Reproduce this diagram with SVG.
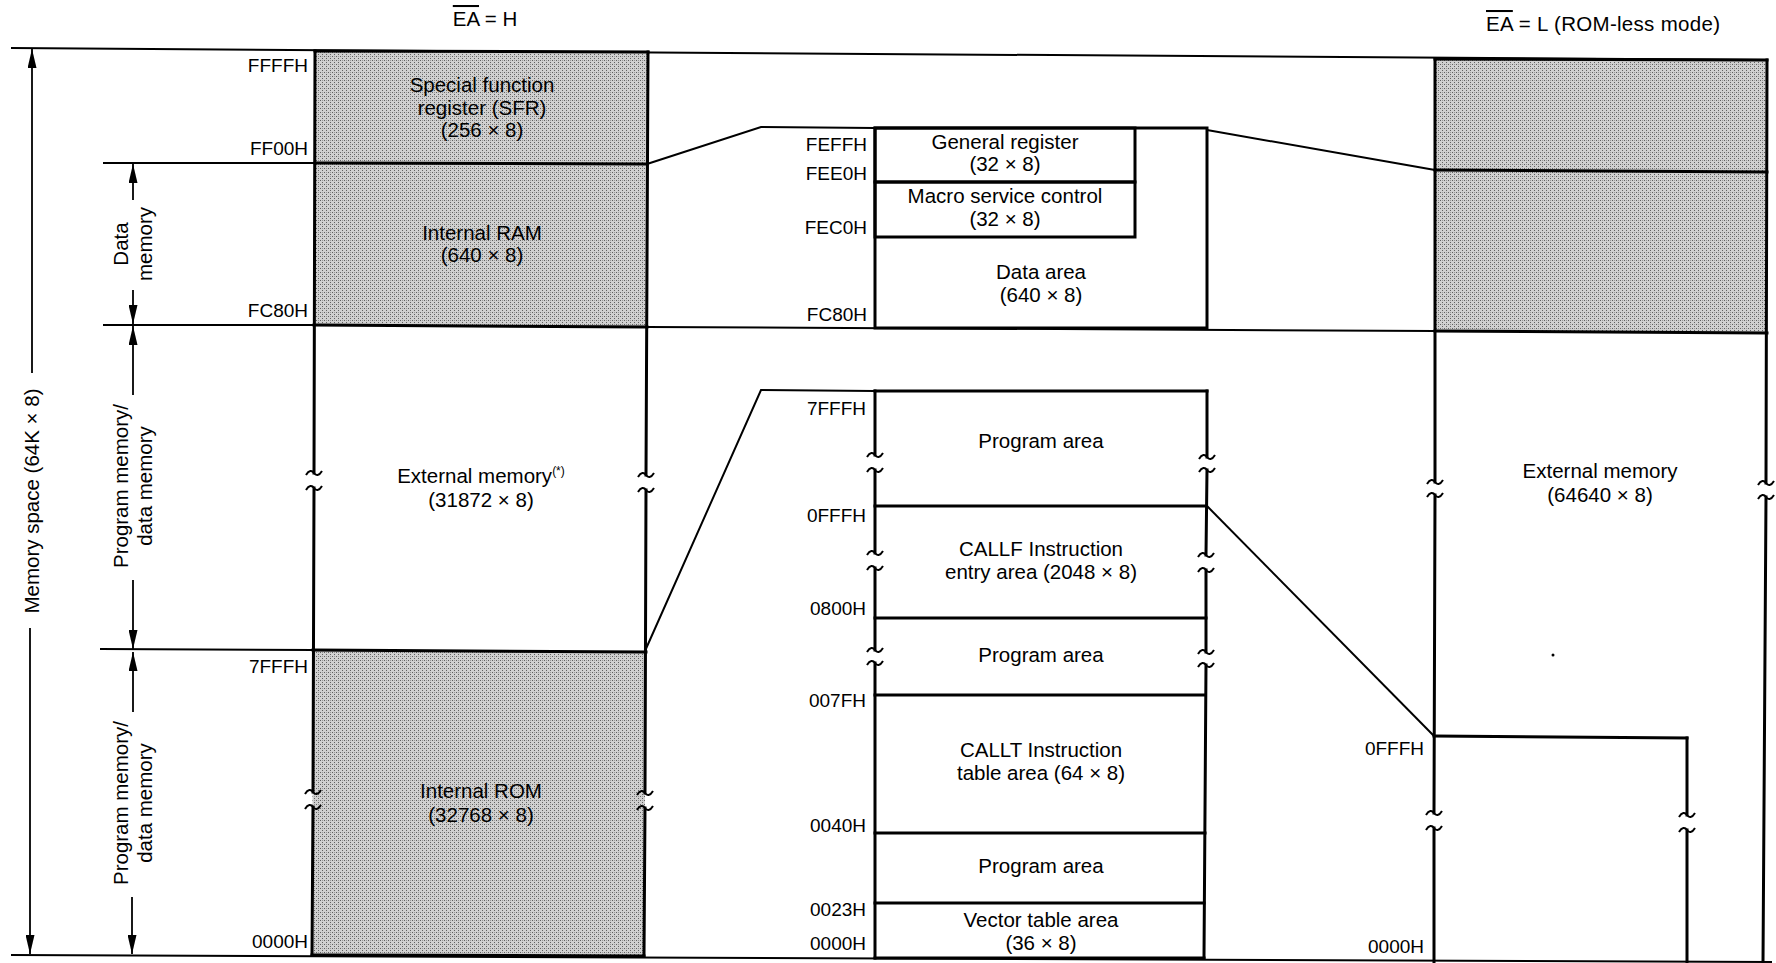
<svg xmlns="http://www.w3.org/2000/svg" xmlns:xlink="http://www.w3.org/1999/xlink" width="1776" height="963" viewBox="0 0 1776 963">
<style>
.t{font-family:"Liberation Sans",Arial,sans-serif;font-size:20.5px;fill:#000;text-anchor:middle}
.lbl{font-family:"Liberation Sans",Arial,sans-serif;font-size:19px;fill:#000;text-anchor:end}
.box{fill:none;stroke:#000;stroke-width:3;stroke-linecap:square}
.thin{fill:none;stroke:#000;stroke-width:2}
.arr{fill:none;stroke:#000;stroke-width:1.8;marker-end:url(#ah)}
.brk{fill:none;stroke:#000;stroke-width:2}
.shade{fill:url(#dots);stroke:none}
</style>
<defs>
<pattern id="dots" width="4" height="4" patternUnits="userSpaceOnUse">
<rect width="4" height="4" fill="#d0d0d0"/>
<rect x="0" y="0" width="1" height="1" fill="#606060"/>
<rect x="2" y="2" width="1" height="1" fill="#606060"/>
<rect x="2" y="0" width="1" height="1" fill="#989898"/>
</pattern>
<marker id="ah" viewBox="0 0 19 9" refX="19" refY="4.5" markerWidth="19" markerHeight="9" markerUnits="userSpaceOnUse" orient="auto">
<path d="M0,0 L19,4.5 L0,9 z" fill="#000"/>
</marker>
<path id="tl" d="M-8,2 C-5,-3 -2,-3 0,0 S5,3 8,-2"/>
</defs>
<rect width="1776" height="963" fill="#fff"/>

<g id="titles">
<text class="t" x="485" y="26"><tspan style="text-decoration:overline">EA</tspan> = H</text>
<text class="t" x="1486" y="31" style="text-anchor:start;letter-spacing:0.3px"><tspan style="text-decoration:overline">EA</tspan> = L (ROM-less mode)</text>
</g>

<g id="dimension-arrows">
<path class="arr" d="M32,373 L32,49"/>
<path class="arr" d="M30,628 L30,954"/>
<text class="t" transform="translate(39,501) rotate(-90)">Memory space (64K × 8)</text>
<path class="arr" d="M133,200 L133,164"/>
<path class="arr" d="M133,290 L133,324"/>
<text class="t" transform="translate(128,244) rotate(-90)"><tspan x="0" y="0">Data</tspan><tspan x="0" y="24">memory</tspan></text>
<path class="arr" d="M133,395 L133,326"/>
<path class="arr" d="M133,580 L133,649"/>
<text class="t" transform="translate(128,486) rotate(-90)"><tspan x="0" y="0">Program memory/</tspan><tspan x="0" y="24">data memory</tspan></text>
<path class="arr" d="M133,712 L133,652"/>
<path class="arr" d="M132,897 L132,954"/>
<text class="t" transform="translate(128,803) rotate(-90)"><tspan x="0" y="0">Program memory/</tspan><tspan x="0" y="24">data memory</tspan></text>
</g>

<g id="connectors">
<path class="thin" d="M11,48 L1767,60"/>
<path class="thin" d="M103,163 L315,163"/>
<path class="thin" d="M103,325 L314,325"/>
<path class="thin" d="M100,649 L313,650"/>
<path class="thin" d="M647,327 L1435,331"/>
<path class="thin" d="M11,955 L1772,962"/>
<path class="thin" d="M647,164 L761,127 L875,128"/>
<path class="thin" d="M1207,130 L1435,170"/>
<path class="thin" d="M645,651 L761,390 L875,391"/>
<path class="thin" d="M1207,506 L1434,736"/>
</g>

<g id="ea-h-sfr">
<polygon class="shade" points="315,51 648,52 647,164 315,163"/>
<text class="t" x="482" y="92">Special function</text>
<text class="t" x="482" y="115">register (SFR)</text>
<text class="t" x="482" y="137">(256 × 8)</text>
</g>
<g id="ea-h-ram">
<polygon class="shade" points="315,163 647,164 647,327 314,325"/>
<text class="t" x="482" y="240">Internal RAM</text>
<text class="t" x="482" y="262">(640 × 8)</text>
</g>
<g id="ea-h-external">
<text class="t" x="481" y="483">External memory<tspan style="font-size:12px" dy="-8">(*)</tspan></text>
<text class="t" x="481" y="507">(31872 × 8)</text>
</g>
<g id="ea-h-rom">
<polygon class="shade" points="313,650 646,652 644,956 312,955"/>
<text class="t" x="481" y="798">Internal ROM</text>
<text class="t" x="481" y="822">(32768 × 8)</text>
</g>
<g id="ea-h-frame">
<path class="box" d="M315,51 L648,52 M315,163 L647,164 M314,325 L647,327 M313,650 L646,652 M312,955 L644,956"/>
<path class="box" d="M315,51 L314,473 M314,488 L313,792 M313,807 L312,955"/>
<path class="box" d="M648,52 L646,475 M646,490 L645,793 M645,808 L644,956"/>
<use class="brk" xlink:href="#tl" x="314" y="473"/>
<use class="brk" xlink:href="#tl" x="314" y="488"/>
<use class="brk" xlink:href="#tl" x="313" y="792"/>
<use class="brk" xlink:href="#tl" x="313" y="807"/>
<use class="brk" xlink:href="#tl" x="646" y="475"/>
<use class="brk" xlink:href="#tl" x="646" y="490"/>
<use class="brk" xlink:href="#tl" x="645" y="793"/>
<use class="brk" xlink:href="#tl" x="645" y="808"/>
<text class="lbl" x="308" y="72">FFFFH</text>
<text class="lbl" x="308" y="155">FF00H</text>
<text class="lbl" x="308" y="317">FC80H</text>
<text class="lbl" x="308" y="673">7FFFH</text>
<text class="lbl" x="308" y="948">0000H</text>
</g>

<g id="data-area-detail">
<rect class="box" x="875" y="128" width="332" height="200"/>
<rect class="box" x="875" y="128" width="260" height="54"/>
<rect class="box" x="875" y="182" width="260" height="55"/>
<text class="t" x="1005" y="149">General register</text>
<text class="t" x="1005" y="171">(32 × 8)</text>
<text class="t" x="1005" y="203">Macro service control</text>
<text class="t" x="1005" y="226">(32 × 8)</text>
<text class="t" x="1041" y="279">Data area</text>
<text class="t" x="1041" y="302">(640 × 8)</text>
<text class="lbl" x="867" y="151">FEFFH</text>
<text class="lbl" x="867" y="180">FEE0H</text>
<text class="lbl" x="867" y="234">FEC0H</text>
<text class="lbl" x="867" y="321">FC80H</text>
</g>

<g id="program-area-detail">
<path class="box" d="M875,391 L1207,391 M875,506 L1206,506 M875,618 L1206,618 M875,695 L1205,695 M875,833 L1205,833 M875,903 L1204,903 M875,958 L1204,958"/>
<path class="box" d="M875,391 L875,455 M875,470 L875,553 M875,568 L875,650 M875,663 L875,958"/>
<path class="box" d="M1207,391 L1207,457 M1207,470 L1206,555 M1206,570 L1206,652 M1206,665 L1204,958"/>
<use class="brk" xlink:href="#tl" x="875" y="455"/>
<use class="brk" xlink:href="#tl" x="875" y="470"/>
<use class="brk" xlink:href="#tl" x="875" y="553"/>
<use class="brk" xlink:href="#tl" x="875" y="568"/>
<use class="brk" xlink:href="#tl" x="875" y="650"/>
<use class="brk" xlink:href="#tl" x="875" y="663"/>
<use class="brk" xlink:href="#tl" x="1207" y="457"/>
<use class="brk" xlink:href="#tl" x="1207" y="470"/>
<use class="brk" xlink:href="#tl" x="1206" y="555"/>
<use class="brk" xlink:href="#tl" x="1206" y="570"/>
<use class="brk" xlink:href="#tl" x="1206" y="652"/>
<use class="brk" xlink:href="#tl" x="1206" y="665"/>
<text class="t" x="1041" y="448">Program area</text>
<text class="t" x="1041" y="556">CALLF Instruction</text>
<text class="t" x="1041" y="579">entry area (2048 × 8)</text>
<text class="t" x="1041" y="662">Program area</text>
<text class="t" x="1041" y="757">CALLT Instruction</text>
<text class="t" x="1041" y="780">table area (64 × 8)</text>
<text class="t" x="1041" y="873">Program area</text>
<text class="t" x="1041" y="927">Vector table area</text>
<text class="t" x="1041" y="950">(36 × 8)</text>
<text class="lbl" x="866" y="415">7FFFH</text>
<text class="lbl" x="866" y="522">0FFFH</text>
<text class="lbl" x="866" y="615">0800H</text>
<text class="lbl" x="866" y="707">007FH</text>
<text class="lbl" x="866" y="832">0040H</text>
<text class="lbl" x="866" y="916">0023H</text>
<text class="lbl" x="866" y="950">0000H</text>
</g>

<g id="ea-l">
<polygon class="shade" points="1435,59 1767,60 1767,333 1435,331"/>
<path class="box" d="M1435,59 L1767,60 M1435,170 L1767,172 M1435,331 L1767,333 M1434,736 L1687,738"/>
<path class="box" d="M1435,59 L1435,482 M1435,495 L1434,813 M1434,828 L1434,962"/>
<path class="box" d="M1767,60 L1766,483 M1766,497 L1763,962"/>
<path class="box" d="M1687,738 L1687,815 M1687,830 L1687,962"/>
<use class="brk" xlink:href="#tl" x="1435" y="482"/>
<use class="brk" xlink:href="#tl" x="1435" y="495"/>
<use class="brk" xlink:href="#tl" x="1434" y="813"/>
<use class="brk" xlink:href="#tl" x="1434" y="828"/>
<use class="brk" xlink:href="#tl" x="1766" y="483"/>
<use class="brk" xlink:href="#tl" x="1766" y="497"/>
<use class="brk" xlink:href="#tl" x="1687" y="815"/>
<use class="brk" xlink:href="#tl" x="1687" y="830"/>
<text class="t" x="1600" y="478">External memory</text>
<text class="t" x="1600" y="502">(64640 × 8)</text>
<text class="lbl" x="1424" y="755">0FFFH</text>
<text class="lbl" x="1424" y="953">0000H</text>
<circle cx="1553" cy="655" r="1.5" fill="#000"/>
</g>
</svg>
